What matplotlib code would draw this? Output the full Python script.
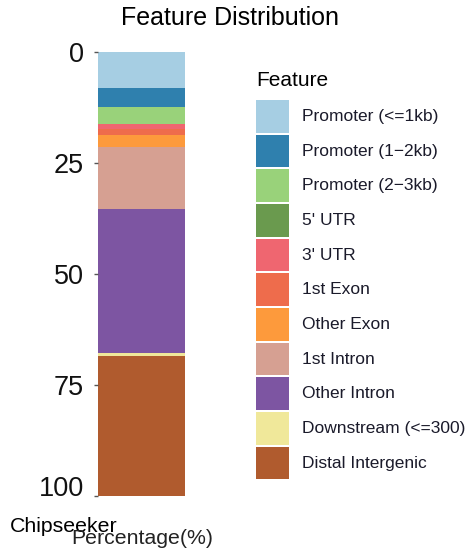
import matplotlib
matplotlib.use("Agg")
import matplotlib.pyplot as plt
from matplotlib.patches import Rectangle

plt.rcParams['font.family'] = ['Liberation Sans', 'DejaVu Sans']

features = ["Promoter (<=1kb)", "Promoter (1\u22122kb)", "Promoter (2\u22123kb)", "5' UTR",
            "3' UTR", "1st Exon", "Other Exon", "1st Intron", "Other Intron",
            "Downstream (<=300)", "Distal Intergenic"]
percentages = [8.2, 4.1, 3.9, 0.05, 1.2, 1.2, 2.7, 14.1, 32.3, 0.8, 31.45]
colors = ["#A6CEE3", "#2F80AE", "#99D27A", "#6A9A4E", "#EF6670", "#EE6C4C",
          "#FD9A3C", "#D6A092", "#7D55A2", "#F0E89A", "#B05B2E"]
yticks = [0, 25, 50, 75, 100]

W, H = 473, 552
fig = plt.figure(figsize=(W / 100, H / 100), dpi=100)
ax = fig.add_axes([98 / W, 1 - 496 / H, 87 / W, (496 - 52) / H])

bottom = 0
for f, p, c in zip(features, percentages, colors):
    ax.bar(0, p, bottom=bottom, width=1.0, color=c, label=f, linewidth=0)
    bottom += p

ax.set_xlim(-0.5, 0.5)
ax.set_ylim(100, 0)
ax.set_yticks(yticks)
ax.set_yticklabels([str(t) for t in yticks], fontsize=19.5, color="#111111")
ax.tick_params(axis='y', length=3, width=1, color="#555555", pad=7)
ax.get_yticklabels()[-1].set_va('baseline')
ax.set_xticks([])
for s in ax.spines.values():
    s.set_visible(False)

fig.text(230 / W, 1 - 18 / H, "Feature Distribution", ha='center', va='center', fontsize=18)
fig.text(10 / W, 1 - 532 / H, "Chipseeker", ha='left', va='baseline', fontsize=15.3)
fig.text(142.5 / W, 1 - 544 / H, "Percentage(%)", ha='center', va='baseline',
         fontsize=15.3, color="#222222")

# legend (drawn manually in figure pixel coordinates)
fig.text(256 / W, 1 - 80 / H, "Feature", ha='left', va='center', fontsize=15)
x0, y0, sw, sh, pitch = 256, 100, 33, 32.7, 34.67
for i, (f, c) in enumerate(zip(features, colors)):
    top = y0 + i * pitch
    fig.patches.append(Rectangle((x0 / W, 1 - (top + sh) / H), sw / W, sh / H,
                                 facecolor=c, edgecolor='none',
                                 transform=fig.transFigure, figure=fig))
    fig.text(302 / W, 1 - (top + sh / 2) / H, f, ha='left', va='center',
             fontsize=12.5, color="#1a1a2a")

fig.savefig("out.png", dpi=100)
